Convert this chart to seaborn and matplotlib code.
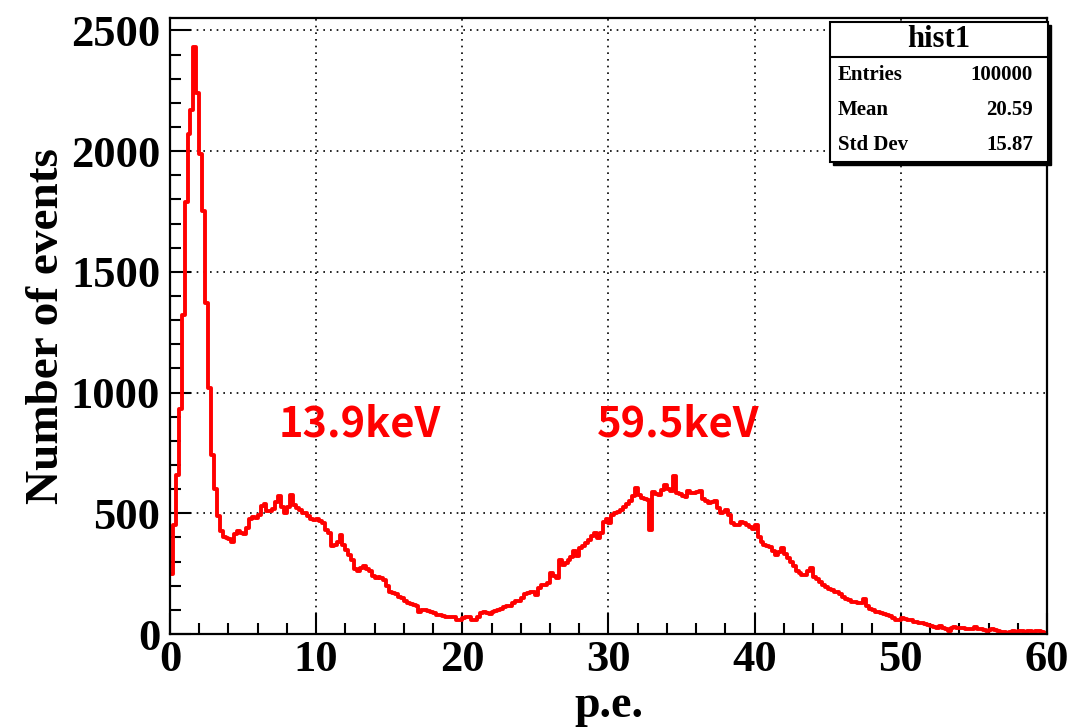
import numpy as np
import pandas as pd
import matplotlib
matplotlib.use("Agg")
import matplotlib.pyplot as plt
from matplotlib.patches import Rectangle
from matplotlib.lines import Line2D
from matplotlib.ticker import MultipleLocator
import seaborn as sns

# histogram binning (ROOT style: 300 bins from 0 to 60)
x_min, x_max, n_bins = 0, 60, 300

# bin contents
counts = [
    250, 450, 660, 930, 1320, 1790, 2070, 2170, 2430, 2240, 1990, 1750, 1370, 1020, 740, 600, 490, 425,
    400, 398, 392, 383, 415, 425, 420, 415, 439, 475, 485, 482,
    495, 530, 540, 510, 510, 518, 545, 570, 525, 503, 528, 577,
    535, 522, 515, 501, 500, 487, 476, 473, 475, 470, 459, 432,
    418, 363, 370, 383, 411, 370, 349, 328, 307, 270, 262, 275,
    280, 268, 262, 240, 231, 238, 232, 225, 197, 176, 170, 164,
    152, 148, 138, 128, 125, 121, 118, 93, 100, 98, 97, 92,
    86, 79, 77, 75, 69, 69, 72, 70, 58, 60, 66, 69,
    69, 56, 60, 72, 89, 93, 88, 83, 93, 95, 100, 105,
    111, 116, 116, 130, 135, 138, 148, 166, 169, 172, 172, 162,
    189, 203, 203, 213, 252, 240, 233, 305, 285, 295, 307, 320,
    342, 325, 355, 365, 376, 388, 405, 420, 398, 417, 465, 476,
    459, 494, 500, 504, 515, 528, 540, 549, 573, 604, 575, 565,
    560, 556, 430, 587, 580, 577, 598, 618, 600, 591, 653, 584,
    580, 573, 567, 591, 585, 584, 588, 591, 560, 549, 542, 545,
    549, 521, 500, 505, 515, 494, 459, 452, 452, 466, 459, 452,
    445, 434, 452, 400, 380, 369, 365, 360, 342, 328, 340, 356,
    330, 314, 300, 280, 262, 252, 245, 245, 260, 273, 238, 227,
    217, 203, 196, 185, 182, 176, 172, 165, 155, 144, 141, 134,
    134, 130, 127, 144, 114, 102, 100, 93, 93, 88, 83, 79,
    75, 65, 60, 58, 65, 61, 60, 58, 51, 50, 47, 46,
    42, 38, 34, 30, 26, 33, 25, 19, 14, 24, 30, 26,
    24, 24, 22, 19, 20, 28, 20, 19, 17, 14, 15, 19,
    17, 13, 10, 9, 6, 10, 14, 10, 11, 12, 10, 13,
    14, 10, 11, 12, 7, 6,
]

peak_labels = ["13.9keV", "59.5keV"]
peak_label_x = [7.4, 29.2]
peak_label_y = 820

stats_title = "hist1"
stats_names = ["Entries", "Mean", "Std Dev"]
stats_values = ["100000", "20.59", "15.87"]

edges = np.linspace(x_min, x_max, n_bins + 1)
df = pd.DataFrame({"pe": (edges[:-1] + edges[1:]) / 2, "n": counts})

sns.set_style("white")
plt.rcParams["font.family"] = ["Liberation Serif", "DejaVu Serif"]
plt.rcParams["font.weight"] = "bold"
plt.rcParams["text.color"] = "black"
plt.rcParams["axes.labelcolor"] = "black"
plt.rcParams["xtick.color"] = "black"
plt.rcParams["ytick.color"] = "black"

fig = plt.figure(figsize=(10.73, 7.28), dpi=100)
ax = fig.add_axes([0.1584, 0.1291, 0.8174, 0.8462])

sns.histplot(data=df, x="pe", weights="n", bins=n_bins, binrange=(x_min, x_max),
             element="step", fill=False, color="#ff0000", linewidth=2.8, ax=ax)

ax.set_xlim(x_min, x_max)
ax.set_ylim(0, 1.05 * max(counts))
ax.xaxis.set_major_locator(MultipleLocator(10))
ax.xaxis.set_minor_locator(MultipleLocator(2))
ax.yaxis.set_major_locator(MultipleLocator(500))
ax.yaxis.set_minor_locator(MultipleLocator(100))
ax.tick_params(which="both", direction="in", bottom=True, left=True, top=False, right=False,
               width=1.5, color="black", labelcolor="black", labelsize=32)
ax.tick_params(which="major", length=15)
ax.tick_params(which="minor", length=8)
ax.tick_params(axis="x", pad=4)
ax.tick_params(axis="y", pad=7)
ax.grid(True, which="major", linestyle=(0, (1, 3)), color="black", linewidth=1.2)
for sp in ax.spines.values():
    sp.set_color("black")
    sp.set_linewidth(1.6)

ax.set_xlabel("p.e.", fontsize=33, fontweight="bold", labelpad=4, color="black")
ax.set_ylabel("Number of events", fontsize=34, fontweight="bold", labelpad=2, color="black")

for lab, xp in zip(peak_labels, peak_label_x):
    ax.text(xp, peak_label_y, lab, color="#ff0000", fontsize=30, fontweight="bold",
            family=["Noto Sans CJK JP", "DejaVu Sans"], ha="left", va="baseline")

# stats box in figure coordinates
bx0, bx1, by0, by1 = 0.7735, 0.9767, 0.7775, 0.9698
shadow = Rectangle((bx0 + 0.003, by0 - 0.004), bx1 - bx0, by1 - by0,
                   transform=fig.transFigure, facecolor="black", edgecolor="black", zorder=9)
box = Rectangle((bx0, by0), bx1 - bx0, by1 - by0, transform=fig.transFigure,
                facecolor="white", edgecolor="black", linewidth=1.5, zorder=10)
fig.patches.extend([shadow, box])
fig.add_artist(Line2D([bx0, bx1], [0.9221, 0.9221], transform=fig.transFigure,
                      color="black", linewidth=1.5, zorder=11))
fig.text((bx0 + bx1) / 2, 0.9455, stats_title, fontsize=22, fontweight="bold",
         ha="center", va="center", color="black", zorder=12)
row_y = [0.897, 0.8489, 0.8008]
for name, val, yy in zip(stats_names, stats_values, row_y):
    fig.text(0.781, yy, name, fontsize=15, fontweight="bold", ha="left", va="center",
             color="black", zorder=12)
    fig.text(0.9627, yy, val, fontsize=15, fontweight="bold", ha="right", va="center",
             color="black", zorder=12)

fig.savefig("out.png", dpi=100)
